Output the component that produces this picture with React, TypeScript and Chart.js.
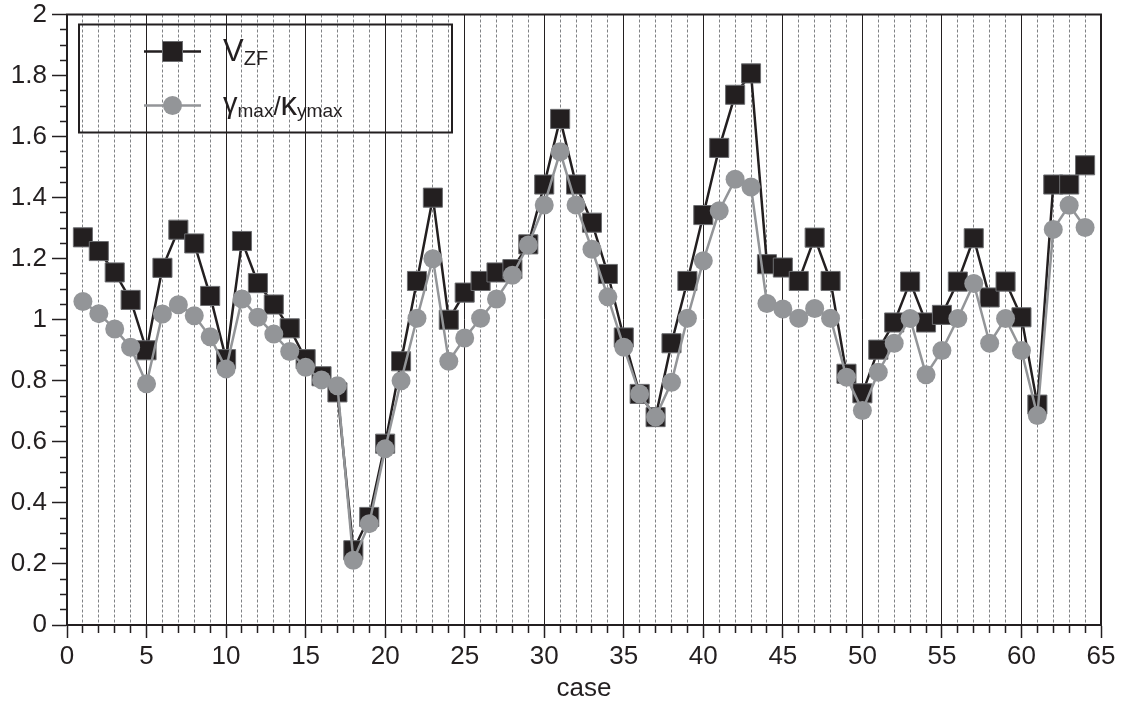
import React, { useEffect, useRef } from "react";
import { Chart, registerables } from "chart.js";

Chart.register(...registerables);

const INK = "#231f20";
const GRAY = "#939598";
const FONT = "'Liberation Sans', Arial, Helvetica, sans-serif";

const cases = [
  1, 2, 3, 4, 5, 6, 7, 8, 9, 10, 11, 12, 13, 14, 15, 16, 17, 18, 19, 20, 21, 22,
  23, 24, 25, 26, 27, 28, 29, 30, 31, 32, 33, 34, 35, 36, 37, 38, 39, 40, 41, 42,
  43, 44, 45, 46, 47, 48, 49, 50, 51, 52, 53, 54, 55, 56, 57, 58, 59, 60, 61, 62,
  63, 64,
];

const vZF = [
  1.27, 1.225, 1.155, 1.065, 0.9, 1.17, 1.295, 1.25, 1.078, 0.871, 1.258, 1.12,
  1.05, 0.972, 0.871, 0.815, 0.762, 0.245, 0.354, 0.594, 0.864, 1.127, 1.4, 1.0,
  1.089, 1.127, 1.155, 1.166, 1.247, 1.443, 1.658, 1.443, 1.318, 1.15, 0.942,
  0.757, 0.681, 0.923, 1.127, 1.343, 1.563, 1.737, 1.807, 1.182, 1.171, 1.127,
  1.269, 1.127, 0.823, 0.759, 0.902, 0.991, 1.125, 0.991, 1.016, 1.125, 1.267,
  1.073, 1.125, 1.008, 0.722, 1.443, 1.443, 1.506,
];

const gammaKappa = [
  1.06, 1.02, 0.97, 0.91, 0.79, 1.019, 1.049, 1.013, 0.944, 0.839, 1.068, 1.008,
  0.953, 0.896, 0.844, 0.803, 0.784, 0.212, 0.332, 0.577, 0.8, 1.005, 1.2, 0.864,
  0.94, 1.005, 1.068, 1.146, 1.245, 1.376, 1.55, 1.376, 1.231, 1.075, 0.91,
  0.757, 0.681, 0.795, 1.005, 1.193, 1.357, 1.46, 1.435, 1.053, 1.035, 1.005,
  1.037, 1.005, 0.812, 0.703, 0.828, 0.923, 1.004, 0.82, 0.899, 1.004, 1.119,
  0.923, 1.004, 0.899, 0.686, 1.296, 1.375, 1.302,
];

const xMin = 0;
const xMax = 65;
const xLabelStep = 5;
const yMin = 0;
const yMax = 2;
const yLabelStep = 0.2;
const yMinorStep = 0.05;

type Seg = { text: string; size: number; dy: number };

const legendItems: { label: Seg[]; kind: "square" | "circle" }[] = [
  {
    kind: "square",
    label: [
      { text: "V", size: 31, dy: 0 },
      { text: "ZF", size: 20, dy: 4 },
    ],
  },
  {
    kind: "circle",
    label: [
      { text: "γ", size: 29, dy: -2 },
      { text: "max", size: 19, dy: 2 },
      { text: "/", size: 26, dy: 0 },
      { text: "κ", size: 33, dy: 0 },
      { text: "ymax", size: 19, dy: 2 },
    ],
  },
];

const framePlugin = {
  id: "frame",
  beforeDatasetsDraw(chart: any) {
    const { ctx, chartArea } = chart;
    ctx.save();
    ctx.strokeStyle = INK;
    ctx.lineWidth = 2;
    ctx.strokeRect(
      chartArea.left,
      chartArea.top,
      chartArea.right - chartArea.left,
      chartArea.bottom - chartArea.top
    );
    ctx.restore();
  },
};

const legendPlugin = {
  id: "richLegend",
  afterDraw(chart: any) {
    const { ctx, chartArea } = chart;
    const bx = chartArea.left + 12;
    const by = chartArea.top + 10;
    const bw = 373;
    const bh = 108;
    ctx.save();
    ctx.strokeStyle = INK;
    ctx.lineWidth = 2;
    ctx.strokeRect(bx, by, bw, bh);
    legendItems.forEach((item, i) => {
      const cy = by + 27 + i * 54;
      const lx1 = bx + 65;
      const lx2 = bx + 122;
      const mx = (lx1 + lx2) / 2;
      ctx.lineWidth = 2.5;
      ctx.strokeStyle = item.kind === "square" ? INK : GRAY;
      ctx.beginPath();
      ctx.moveTo(lx1, cy);
      ctx.lineTo(lx2, cy);
      ctx.stroke();
      if (item.kind === "square") {
        ctx.fillStyle = INK;
        ctx.fillRect(mx - 10, cy - 10, 20, 20);
        ctx.strokeStyle = "#6d6e71";
        ctx.lineWidth = 1;
        ctx.strokeRect(mx - 10, cy - 10, 20, 20);
      } else {
        ctx.fillStyle = GRAY;
        ctx.beginPath();
        ctx.arc(mx, cy, 9.5, 0, Math.PI * 2);
        ctx.fill();
      }
      let tx = bx + 144;
      const baseline = cy + 9;
      ctx.fillStyle = INK;
      ctx.textBaseline = "alphabetic";
      ctx.textAlign = "left";
      item.label.forEach((s) => {
        ctx.font = `${s.size}px ${FONT}`;
        ctx.fillText(s.text, tx, baseline + s.dy);
        tx += ctx.measureText(s.text).width;
      });
    });
    ctx.restore();
  },
};

const isMult = (v: number, step: number) =>
  Math.abs(v / step - Math.round(v / step)) < 1e-6;

export default function App() {
  const canvasRef = useRef<HTMLCanvasElement | null>(null);

  useEffect(() => {
    if (!canvasRef.current) return;
    const chart = new Chart(canvasRef.current, {
      type: "line",
      data: {
        datasets: [
          {
            label: "VZF",
            data: cases.map((c, i) => ({ x: c, y: vZF[i] })),
            borderColor: INK,
            borderWidth: 2.5,
            backgroundColor: INK,
            pointStyle: "rect",
            pointRadius: 13.5,
            pointBackgroundColor: INK,
            pointBorderColor: "#6d6e71",
            pointBorderWidth: 1,
            order: 2,
          },
          {
            label: "γmax/κymax",
            data: cases.map((c, i) => ({ x: c, y: gammaKappa[i] })),
            borderColor: GRAY,
            borderWidth: 2.5,
            backgroundColor: GRAY,
            pointStyle: "circle",
            pointRadius: 9.5,
            pointBackgroundColor: GRAY,
            pointBorderColor: GRAY,
            pointBorderWidth: 0,
            order: 1,
          },
        ],
      },
      options: {
        responsive: false,
        animation: false,
        maintainAspectRatio: false,
        layout: { padding: { left: 0, right: 22, top: 14, bottom: 0 } },
        plugins: {
          legend: { display: false },
          tooltip: { enabled: false },
        },
        scales: {
          x: {
            type: "linear",
            min: xMin,
            max: xMax,
            afterFit: (scale: any) => {
              scale.height = 79;
              scale.paddingLeft = 0;
              scale.paddingRight = 0;
            },
            ticks: {
              stepSize: 1,
              autoSkip: false,
              maxRotation: 0,
              minRotation: 0,
              padding: 3,
              color: INK,
              font: { family: FONT, size: 26 },
              callback: (v: any) => (isMult(Number(v), xLabelStep) ? String(v) : ""),
            },
            grid: {
              display: true,
              drawOnChartArea: true,
              drawTicks: true,
              tickLength: 13,
              tickWidth: 1.5,
              tickColor: INK,
              color: (ctx: any) =>
                ctx.tick && isMult(ctx.tick.value, xLabelStep) ? INK : "#808285",
              lineWidth: 1,
              tickBorderDash: (ctx: any) =>
                ctx.tick && isMult(ctx.tick.value, xLabelStep) ? [] : [7, 100],
            },
            border: {
              display: true,
              color: INK,
              width: 2,
              dash: (ctx: any) =>
                ctx.tick && !isMult(ctx.tick.value, xLabelStep) ? [3, 2] : [],
            },
            title: {
              display: true,
              text: "case",
              color: INK,
              font: { family: FONT, size: 26, lineHeight: 1.2 },
              padding: { top: 0, bottom: 0 },
            },
          },
          y: {
            type: "linear",
            min: yMin,
            max: yMax,
            afterFit: (scale: any) => {
              scale.width = 67;
              scale.paddingTop = 0;
              scale.paddingBottom = 0;
            },
            ticks: {
              stepSize: yMinorStep,
              autoSkip: false,
              padding: 5,
              color: INK,
              font: { family: FONT, size: 26 },
              callback: (v: any) =>
                isMult(Number(v), yLabelStep)
                  ? String(Math.round(Number(v) * 10) / 10)
                  : "",
            },
            grid: {
              display: true,
              drawOnChartArea: false,
              drawTicks: true,
              tickLength: 15,
              tickWidth: 1.5,
              tickColor: INK,
              tickBorderDash: (ctx: any) =>
                ctx.tick && isMult(ctx.tick.value, yLabelStep) ? [] : [0, 8, 7, 100],
            },
            border: { display: true, color: INK, width: 2 },
          },
        },
      },
      plugins: [framePlugin, legendPlugin],
    } as any);
    return () => chart.destroy();
  }, []);

  return (
    <div
      style={{
        position: "fixed",
        left: 0,
        top: 0,
        width: 1123,
        height: 704,
        background: "#ffffff",
      }}
    >
      <canvas ref={canvasRef} width={1123} height={704} style={{ display: "block" }} />
    </div>
  );
}
